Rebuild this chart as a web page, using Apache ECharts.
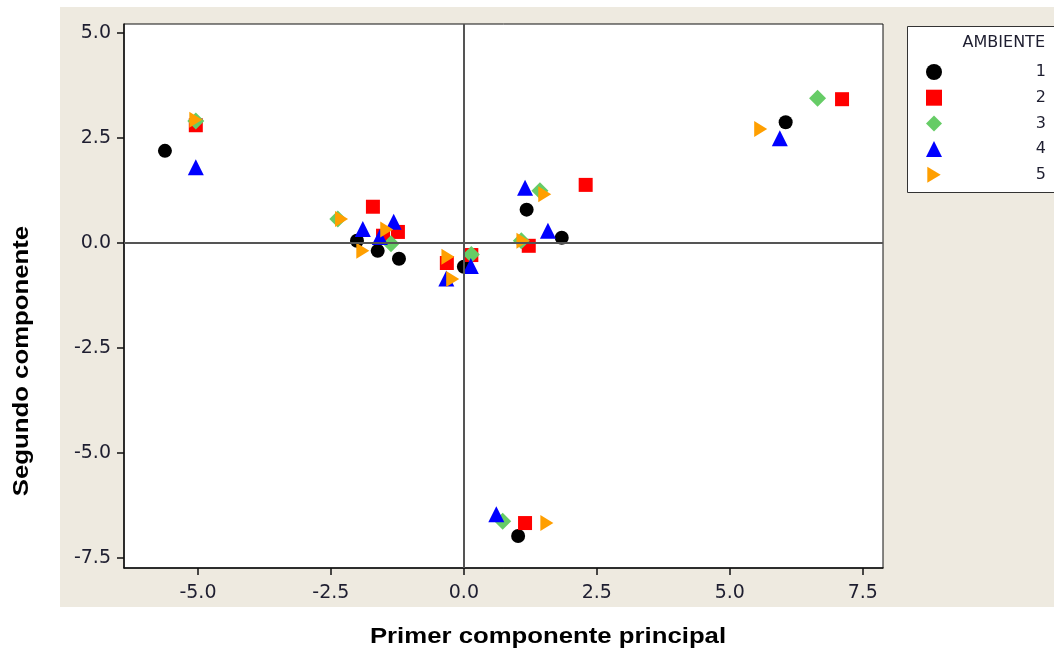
<!DOCTYPE html>
<html>
<head>
<meta charset="utf-8">
<title>Componentes principales</title>
<script src="https://cdn.jsdelivr.net/npm/echarts@6.0.0/dist/echarts.min.js"></script>
<style>
  html, body { margin: 0; width: 100%; height: 100%; background: #fff; }
  #chart { width: 1054px; height: 653px; }
</style>
</head>
<body>
<div id="chart"></div>
<script>
// valores: [primer componente, segundo componente]
var amb1 = [[-5.62, 2.19], [-2.01, 0.05], [-1.62, -0.19], [-1.22, -0.38], [0.0, -0.57],
            [1.18, 0.79], [1.84, 0.12], [1.02, -6.98], [6.05, 2.87]];
var amb2 = [[-5.04, 2.80], [-1.71, 0.86], [-1.52, 0.17], [-1.24, 0.26], [-0.32, -0.48],
            [0.14, -0.29], [1.22, -0.07], [2.29, 1.38], [1.15, -6.67], [7.11, 3.42]];
var amb3 = [[-5.04, 2.90], [-2.37, 0.57], [-1.37, -0.02], [0.14, -0.28], [1.08, 0.05],
            [1.43, 1.24], [0.73, -6.63], [6.65, 3.44]];
var amb4 = [[-5.04, 1.80], [-1.90, 0.33], [-1.58, 0.14], [-1.32, 0.50], [-0.33, -0.85],
            [0.13, -0.55], [1.15, 1.31], [1.58, 0.29], [0.61, -6.46], [5.94, 2.49]];
var amb5 = [[-5.04, 2.93], [-2.30, 0.57], [-1.90, -0.19], [-1.45, 0.32], [-0.30, -0.33],
            [-0.21, -0.86], [1.11, 0.05], [1.52, 1.16], [1.56, -6.67], [5.58, 2.71]];
var xTicks = [-5, -2.5, 0, 2.5, 5, 7.5];
var yTicks = [-7.5, -5, -2.5, 0, 2.5, 5];

var chart = echarts.init(document.getElementById('chart'));

function serie(name, data, symbol, size, color) {
  return {
    name: name,
    type: 'scatter',
    data: data,
    symbol: symbol,
    symbolSize: size,
    itemStyle: { color: color, opacity: 1 }
  };
}

var lblStyle = { fontFamily: 'DejaVu Sans', fontSize: 19, color: '#1e1e30' };

var series = [
  serie('1', amb1, 'circle', 14, '#000000'),
  serie('2', amb2, 'rect', 14, '#ff0000'),
  serie('3', amb3, 'diamond', 17, '#66cc66'),
  serie('4', amb4, 'triangle', 16, '#0000ff'),
  serie('5', amb5, 'path://M0,0 L10,6 L0,12 Z', [13, 16], '#ff9f00')
];
series[0].markLine = {
  silent: true,
  symbol: 'none',
  label: { show: false },
  lineStyle: { color: '#555', width: 2, type: 'solid' },
  data: [{ xAxis: 0 }, { yAxis: 0 }]
};
series[0].z = 1;

chart.setOption({
  backgroundColor: '#fff',
  animation: false,
  graphic: [
    { type: 'rect', z: -10, shape: { x: 60, y: 7, width: 1000, height: 600 }, style: { fill: '#eeeae0' } },
    { type: 'rect', z: 1, shape: { x: 907.5, y: 26.5, width: 160, height: 166 },
      style: { fill: '#fff', stroke: '#333', lineWidth: 1 } },
    { type: 'text', z: 2, x: 1045, y: 43,
      style: { text: 'AMBIENTE', font: '16px "DejaVu Sans"', fill: '#1e1e30', textAlign: 'right', textVerticalAlign: 'middle' } },
    { type: 'text', x: 548, y: 637, scaleX: 1.17,
      style: { text: 'Primer componente principal', font: 'bold 22px "Liberation Sans"', fill: '#000', textAlign: 'center', textVerticalAlign: 'middle' } },
    { type: 'text', x: 22, y: 361, rotation: Math.PI / 2, scaleX: 1.17,
      style: { text: 'Segundo componente', font: 'bold 22px "Liberation Sans"', fill: '#000', textAlign: 'center', textVerticalAlign: 'middle' } }
  ],
  legend: {
    orient: 'vertical',
    left: 921,
    top: 59,
    itemWidth: 16,
    itemHeight: 16,
    itemGap: 9.7,
    selectedMode: false,
    data: ['1', '2', '3', '4', '5'],
    formatter: function (n) { return '{n|' + n + '}'; },
    textStyle: {
      rich: { n: { width: 99, align: 'right', fontFamily: 'DejaVu Sans', fontSize: 16, color: '#1e1e30' } }
    }
  },
  grid: {
    left: 124, right: 171, top: 24, bottom: 85,
    show: true, backgroundColor: '#fff', borderColor: '#111', borderWidth: 1
  },
  xAxis: {
    type: 'value',
    min: -6.39, max: 7.88,
    splitLine: { show: false },
    axisLine: { show: true, onZero: false, lineStyle: { color: '#111', width: 1.5 } },
    axisTick: { show: true, length: 7, customValues: xTicks, lineStyle: { color: '#111', width: 1.5 } },
    axisLabel: Object.assign({ margin: 16, customValues: xTicks,
      formatter: function (v) { return v.toFixed(1); } }, lblStyle)
  },
  yAxis: {
    type: 'value',
    min: -7.74, max: 5.21,
    splitLine: { show: false },
    axisLine: { show: true, onZero: false, lineStyle: { color: '#111', width: 1.5 } },
    axisTick: { show: true, length: 7, customValues: yTicks, lineStyle: { color: '#111', width: 1.5 } },
    axisLabel: Object.assign({ margin: 13, customValues: yTicks,
      formatter: function (v) { return v.toFixed(1); } }, lblStyle)
  },
  series: series
});
</script>
</body>
</html>
